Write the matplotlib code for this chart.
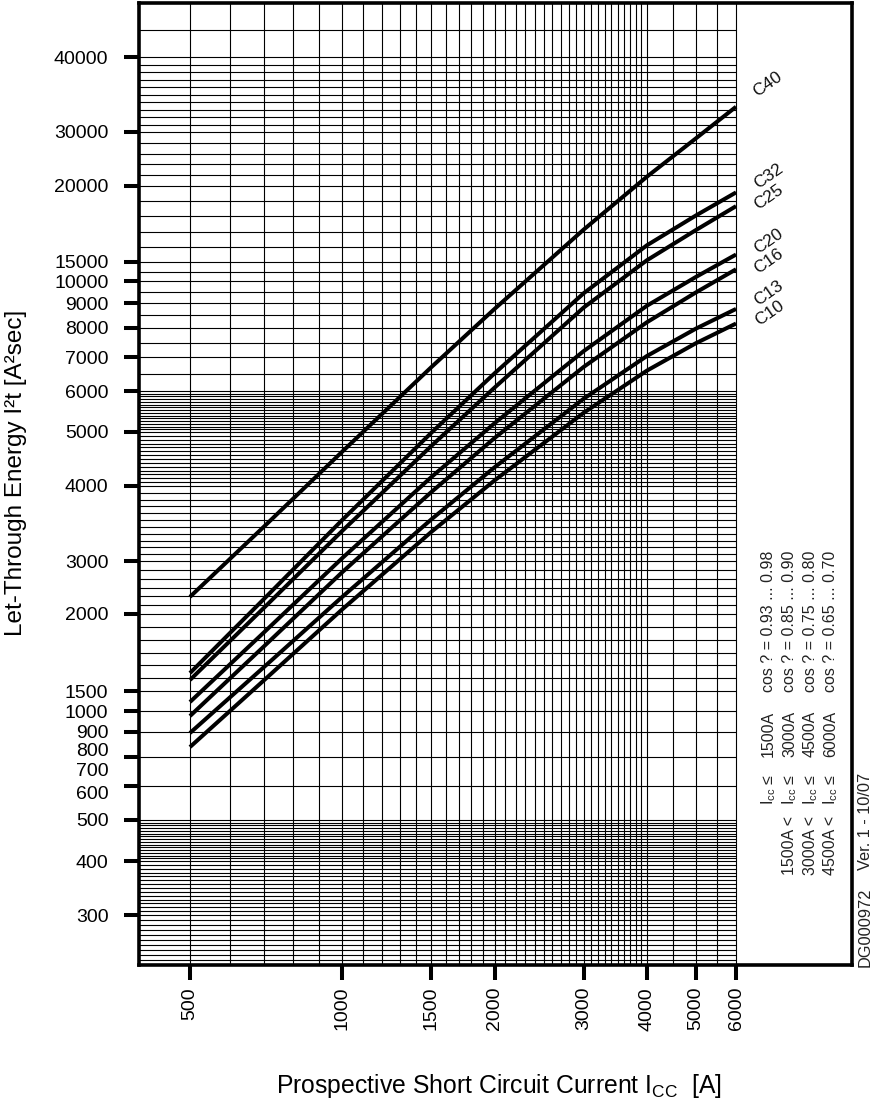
import numpy as np
import matplotlib
matplotlib.use('Agg')
import matplotlib.pyplot as plt
from matplotlib.ticker import FixedLocator, FixedFormatter, NullFormatter, NullLocator

plt.rcParams['font.family'] = ['Liberation Sans', 'DejaVu Sans']
plt.rcParams['mathtext.fontset'] = 'custom'
plt.rcParams['mathtext.rm'] = 'Liberation Sans'
plt.rcParams['mathtext.it'] = 'Liberation Sans:italic'

# ---------------- data ----------------
current = [500, 700, 1000, 1500, 2000, 3000, 4000, 5000, 6000]
curve_names = ['C40', 'C32', 'C25', 'C20', 'C16', 'C13', 'C10']
C40 = [2280, 3422, 4611, 6687, 8755, 16960, 21450, 28610, 33050]
C32 = [1604, 2243, 3512, 4985, 6501, 9432, 15980, 17890, 19520]
C25 = [1563, 2096, 3368, 4721, 6094, 8810, 15100, 16930, 18530]
C20 = [1200, 1867, 3034, 4151, 5200, 7193, 8885, 10910, 15430]
C16 = [975, 1772, 2755, 3909, 4877, 6693, 8220, 9469, 12840]
C13 = [894, 1640, 2281, 3520, 4322, 5797, 7033, 7978, 8752]
C10 = [814, 1561, 2073, 3355, 4094, 5446, 6581, 7460, 8170]
curves = [C40, C32, C25, C20, C16, C13, C10]

x_tick_values = [500, 1000, 1500, 2000, 3000, 4000, 5000, 6000]
x_tick_labels = ['500', '1000', '1500', '2000', '3000', '4000', '5000', '6000']
y_label_values = [40000, 30000, 20000, 15000, 10000, 9000, 8000, 7000, 6000, 5000,
                  4000, 3000, 2000, 1500, 1000, 900, 800, 700, 600, 500, 400, 300]
y_mark_values = [40000, 30000, 20000, 15000, 10000, 9000, 8000, 7000, 6000, 5000,
                 4000, 3000, 2000, 1500, 1000, 900, 762, 628, 500, 400, 300]

regime_low = ['', '1500A <', '3000A <', '4500A <']
regime_high = ['1500A', '3000A', '4500A', '6000A']
cos_phi = ['0.93 ... 0.98', '0.85 ... 0.90', '0.75 ... 0.80', '0.65 ... 0.70']

# ---------------- y scale of the printed paper (piecewise log) ----------------
knot_vals = [230, 300, 400, 500, 900, 1000, 1500, 2000, 3000, 4000, 5000, 6000,
             7000, 8000, 9000, 10000, 15000, 20000, 30000, 40000, 49200]
knot_pos = [0, 50, 104, 145, 233, 254, 274, 351, 404, 479, 533, 574,
            608, 637, 662, 684, 703, 779, 833, 908, 962]
grid_div = [10, 14, 15, 1, 1, 1, 6, 6, 11, 14, 15, 2, 2, 2, 2, 2, 5, 5, 10, 2]

_lk = np.log10(np.asarray(knot_vals, float))
_kp = np.asarray(knot_pos, float)
_s0 = (_kp[1] - _kp[0]) / (_lk[1] - _lk[0])
_s1 = (_kp[-1] - _kp[-2]) / (_lk[-1] - _lk[-2])


def _fwd(v):
    v = np.asarray(v, float)
    with np.errstate(divide='ignore', invalid='ignore'):
        lv = np.log10(np.where(v > 0, v, np.nan))
    out = np.interp(lv, _lk, _kp)
    out = np.where(lv < _lk[0], _kp[0] + (lv - _lk[0]) * _s0, out)
    out = np.where(lv > _lk[-1], _kp[-1] + (lv - _lk[-1]) * _s1, out)
    return out


def _inv(p):
    p = np.asarray(p, float)
    lv = np.interp(p, _kp, _lk)
    lv = np.where(p < _kp[0], _lk[0] + (p - _kp[0]) / _s0, lv)
    lv = np.where(p > _kp[-1], _lk[-1] + (p - _kp[-1]) / _s1, lv)
    return 10 ** lv


# ---------------- figure ----------------
W, H = 873, 1098
fig = plt.figure(figsize=(W / 100, H / 100), dpi=100)
ax = fig.add_axes([139 / W, (H - 965) / H, 713 / W, 962 / H])

x_lo, x_hi, x_grid_end = 396.5, 10170, 6000
ax.set_xscale('log')
ax.set_yscale('function', functions=(_fwd, _inv))

# vertical grid lines
xg = list(range(500, 4001, 100)) + [4500, 5000, 5500, 6000]
ax.vlines(xg, 0, 1, transform=ax.get_xaxis_transform(), colors='black', lw=0.8, zorder=1)

# horizontal grid lines
hg = []
for i, n in enumerate(grid_div):
    ps = np.linspace(_kp[i], _kp[i + 1], n + 1)[:-1]
    hg.extend(_inv(ps).tolist())
hg = [v for v in hg if v > knot_vals[0] * 1.001] + [762, 628]
ax.hlines(hg, x_lo, x_grid_end, colors='black', lw=0.8, zorder=1)

# curves
label_offsets = [(32, 23), (33, 16), (33, 9), (33, 13), (33, 8), (33, 16), (34, 10)]
for name, vals, off in zip(curve_names, curves, label_offsets):
    ax.plot(current, vals, color='black', lw=2.9, zorder=3, solid_capstyle='butt',
            solid_joinstyle='round')
    ax.annotate(name, xy=(current[-1], vals[-1]), xytext=off, textcoords='offset pixels',
                rotation=35, ha='center', va='center', fontsize=12.5, color='#111')

ax.set_xlim(x_lo, x_hi)
ax.set_ylim(knot_vals[0], knot_vals[-1])

# x ticks
ax.xaxis.set_major_locator(FixedLocator(x_tick_values))
ax.xaxis.set_major_formatter(FixedFormatter(x_tick_labels))
ax.xaxis.set_minor_locator(NullLocator())
ax.tick_params(axis='x', which='major', direction='out', length=10.8, width=2.9,
               pad=5, labelsize=14, labelrotation=90)

# y ticks: labels (no marks) + marks (no labels)
ax.yaxis.remove_overlapping_locs = False
ax.yaxis.set_major_locator(FixedLocator(y_label_values))
ax.yaxis.set_major_formatter(FixedFormatter([str(v) for v in y_label_values]))
ax.yaxis.set_minor_locator(FixedLocator(y_mark_values))
ax.yaxis.set_minor_formatter(NullFormatter())
ax.tick_params(axis='y', which='major', length=0, pad=22, labelsize=14)
ax.tick_params(axis='y', which='minor', direction='out', length=10.8, width=2.9)

for sp in ax.spines.values():
    sp.set_linewidth(2.6)
    sp.set_zorder(4)


def fx(px):
    return px / W


def fy(py):
    return 1 - py / H


fig.text(fx(16), fy(473), 'Let-Through Energy I²t [A²sec]', rotation=90,
         ha='center', va='center', fontsize=17.5)
fig.text(fx(499), fy(1093), r'Prospective Short Circuit Current I$_{\mathrm{CC}}$  [A]',
         ha='center', va='baseline', fontsize=17.8)

# condition block on the right
row_base = [773, 794, 815, 835]
kw = dict(rotation=90, rotation_mode='anchor', ha='left', va='baseline',
          fontsize=11.5, color='#222')
for xb, lo, hi, cp in zip(row_base, regime_low, regime_high, cos_phi):
    if lo:
        fig.text(fx(xb), fy(875), lo, **kw)
    fig.text(fx(xb), fy(805), r'I$_{\mathrm{cc}}$ ≤', **kw)
    fig.text(fx(xb), fy(757), hi, **kw)
    fig.text(fx(xb), fy(692), 'cos ? = ' + cp, **kw)

kw2 = dict(kw, fontsize=11.8)
fig.text(fx(869.5), fy(967), 'DG000972', **kw2)
fig.text(fx(869.5), fy(870), 'Ver. 1 - 10/07', **kw2)

fig.savefig('out.png', dpi=100)
